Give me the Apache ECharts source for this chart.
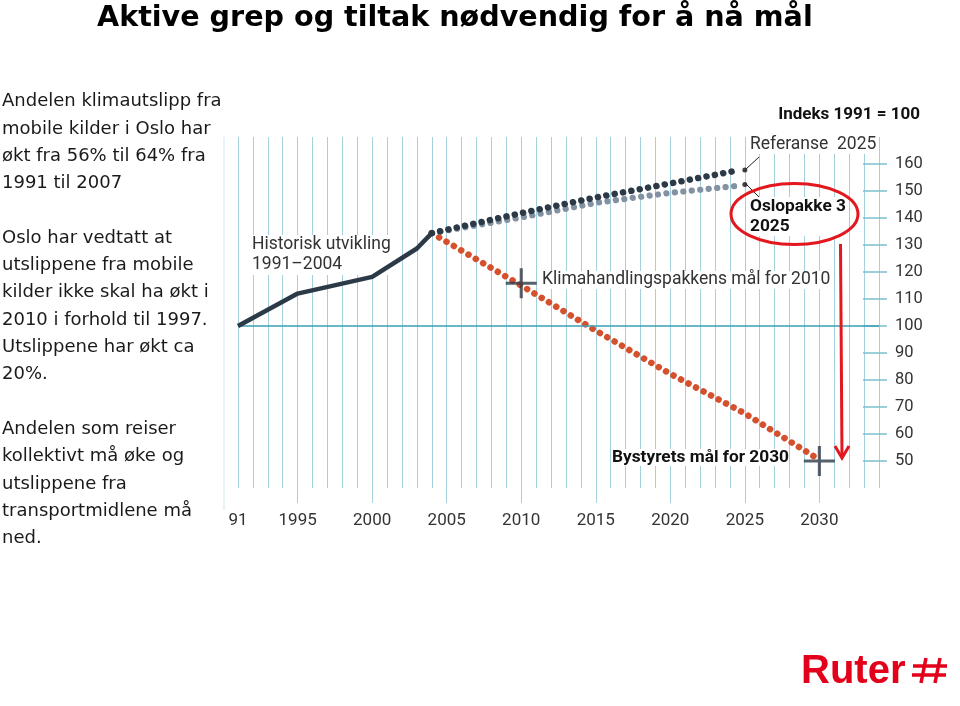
<!DOCTYPE html>
<html>
<head>
<meta charset="utf-8">
<script src="https://cdn.jsdelivr.net/npm/echarts@6/dist/echarts.min.js"></script>
<style>
html, body { margin: 0; padding: 0; background: #fff; }
#chart { width: 960px; height: 706px; }
</style>
</head>
<body>
<div id="chart"></div>
<script>
// indeks 1991 = 100
const historisk = [[1991, 100], [1995, 112], [2000, 118.2], [2003, 128.7], [2004, 134.4]]
const referanse = [[2004, 134.4], [2010, 141.8], [2015, 147.6], [2020, 152.8], [2024.5, 157.6]]
const oslopakke = [[2004, 134.4], [2010, 140.2], [2015, 145.6], [2020, 149.3], [2024.5, 151.9]]
const bystyret  = [[2004, 134.4], [2010, 115], [2015, 98.3], [2020, 82.3], [2025, 67.6], [2029.7, 51.5]]
const maal      = [[2010, 115.8], [2030, 50]]
const endepunkt = [[2025, 157.8], [2025, 152.4]]
const xLabels = [1991, 1995, 2000, 2005, 2010, 2015, 2020, 2025, 2030]
const yLabels = [50, 60, 70, 80, 90, 100, 110, 120, 130, 140, 150, 160]

const FONT = 'Roboto'
const DARK = '#2c3a47'
const GRID = '#a3d0da'
const RED = '#e3171e'

const dotted = (color, width) => ({ color, width, type: [0.1, 8.4], cap: 'round' })

const ec = echarts.init(document.getElementById('chart'))

ec.setOption({
    animation: false,
    backgroundColor: '#fff',
    grid: { left: 238, right: 81, top: 137, bottom: 218 },
    xAxis: [
        {
            // ett år per rutelinje
            type: 'value',
            min: 1991,
            max: 2034,
            interval: 1,
            axisLine: { show: false },
            axisTick: { show: false },
            axisLabel: { show: false },
            splitLine: { show: true, lineStyle: { color: GRID, width: 1 } }
        },
        {
            type: 'value',
            position: 'bottom',
            min: 1991,
            max: 2034,
            axisLine: { show: false },
            axisTick: {
                show: true,
                customValues: xLabels.slice(1),
                length: 15,
                lineStyle: { color: GRID, width: 1 }
            },
            axisLabel: {
                customValues: xLabels,
                margin: 24,
                fontFamily: FONT,
                fontSize: 17,
                color: '#333',
                formatter: v => v === 1991 ? '91' : String(v)
            },
            splitLine: { show: false }
        }
    ],
    yAxis: {
        type: 'value',
        position: 'right',
        offset: 8,
        min: 40,
        max: 170,
        interval: 10,
        axisLine: { show: false },
        axisTick: {
            show: true,
            inside: true,
            length: 24,
            customValues: yLabels,
            lineStyle: { color: '#7dbfcd', width: 1.5 }
        },
        axisLabel: {
            customValues: yLabels,
            margin: 8,
            fontFamily: FONT,
            fontSize: 16.5,
            color: '#333'
        },
        splitLine: { show: false }
    },
    series: [
        {
            type: 'line',
            data: bystyret,
            showSymbol: false,
            z: 3,
            lineStyle: dotted('#d5502c', 6.5)
        },
        {
            type: 'line',
            data: oslopakke,
            showSymbol: false,
            z: 3,
            lineStyle: dotted('#8292a2', 6.2)
        },
        {
            type: 'line',
            data: referanse,
            showSymbol: false,
            z: 4,
            lineStyle: dotted(DARK, 6.5)
        },
        {
            type: 'line',
            data: historisk,
            showSymbol: false,
            z: 5,
            lineStyle: { color: DARK, width: 4.5 },
            markLine: {
                silent: true,
                symbol: 'none',
                label: { show: false },
                lineStyle: { color: '#3b9fb4', width: 1.5, type: 'solid' },
                data: [[{ coord: [1991, 100] }, { coord: [2034, 100] }]]
            }
        },
        {
            type: 'scatter',
            data: maal,
            z: 6,
            symbol: 'path://M0,13.5h30v3h-30z M13.5,0h3v30h-3z',
            symbolSize: [31, 30],
            itemStyle: { color: DARK }
        },
        {
            type: 'scatter',
            data: endepunkt,
            z: 6,
            symbolSize: 5,
            itemStyle: { color: '#111' }
        }
    ],
    graphic: [
        {
            type: 'text', left: 97, top: 4,
            style: { text: 'Aktive grep og tiltak nødvendig for å nå mål', font: 'bold 28.6px "DejaVu Sans"', fill: '#000' }
        },
        {
            type: 'text', left: 2, top: 88,
            style: {
                text: 'Andelen klimautslipp fra\nmobile kilder i Oslo har\nøkt fra 56% til 64% fra\n1991 til 2007\n\n' +
                      'Oslo har vedtatt at\nutslippene fra mobile\nkilder ikke skal ha økt i\n2010 i forhold til 1997.\nUtslippene har økt ca\n20%.\n\n' +
                      'Andelen som reiser\nkollektivt må øke og\nutslippene fra\ntransportmidlene må\nned.',
                font: '18px "DejaVu Sans"',
                lineHeight: 27.3,
                fill: '#1a1a1a'
            }
        },
        {
            type: 'line', shape: { x1: 224, y1: 137, x2: 224, y2: 510 },
            style: { stroke: '#d3e6ec', lineWidth: 1 }
        },
        {
            type: 'text', right: 40, top: 106,
            style: { text: 'Indeks 1991 = 100', font: 'bold 17px ' + FONT, fill: '#111' }
        },
        {
            type: 'text', left: 252, top: 235, z: 1,
            style: { text: 'Historisk utvikling\n1991–2004', font: '17.5px ' + FONT, lineHeight: 20, fill: '#333', backgroundColor: '#fff' }
        },
        {
            type: 'text', left: 542, top: 271, z: 10,
            style: { text: 'Klimahandlingspakkens mål for 2010', font: '17.5px ' + FONT, fill: '#333', backgroundColor: '#fff' }
        },
        {
            type: 'text', left: 750, top: 136, z: 10,
            style: { text: 'Referanse  2025', font: '17.5px ' + FONT, fill: '#333', backgroundColor: '#fff' }
        },
        {
            type: 'text', left: 750, top: 197, z: 10,
            style: { text: 'Oslopakke 3\n2025', font: 'bold 17.3px ' + FONT, lineHeight: 19.5, fill: '#111', backgroundColor: '#fff' }
        },
        {
            type: 'text', left: 612, top: 449, z: 10,
            style: { text: 'Bystyrets mål for 2030', font: 'bold 17.3px ' + FONT, fill: '#111', backgroundColor: '#fff' }
        },
        {
            type: 'line', shape: { x1: 746, y1: 169, x2: 759, y2: 157 }, z: 10,
            style: { stroke: '#222', lineWidth: 1 }
        },
        {
            type: 'line', shape: { x1: 746, y1: 184, x2: 759, y2: 197 }, z: 10,
            style: { stroke: '#222', lineWidth: 1 }
        },
        {
            type: 'ellipse', shape: { cx: 794.5, cy: 214, rx: 63.5, ry: 30.5 }, z: 11,
            style: { fill: 'none', stroke: RED, lineWidth: 3 }
        },
        {
            type: 'polyline', shape: { points: [[840.5, 244], [842, 457]] }, z: 11,
            style: { stroke: RED, lineWidth: 3, fill: 'none' }
        },
        {
            type: 'polyline', shape: { points: [[835, 446], [842, 458], [849, 446]] }, z: 11,
            style: { stroke: RED, lineWidth: 3, fill: 'none' }
        },
        {
            type: 'text', left: 801, top: 652,
            style: { text: 'Ruter', font: 'bold 40px "Liberation Sans", Arial', fill: '#e2001a' }
        },
        {
            type: 'group', x: 912, y: 658,
            children: [
                { type: 'line', shape: { x1: 14, y1: 0, x2: 9, y2: 25 }, style: { stroke: '#e2001a', lineWidth: 3.5 } },
                { type: 'line', shape: { x1: 28, y1: 0, x2: 23, y2: 25 }, style: { stroke: '#e2001a', lineWidth: 3.5 } },
                { type: 'line', shape: { x1: 1, y1: 8, x2: 35, y2: 8 }, style: { stroke: '#e2001a', lineWidth: 3.5 } },
                { type: 'line', shape: { x1: 0, y1: 17, x2: 34, y2: 17 }, style: { stroke: '#e2001a', lineWidth: 3.5 } }
            ]
        }
    ]
})
</script>
</body>
</html>
